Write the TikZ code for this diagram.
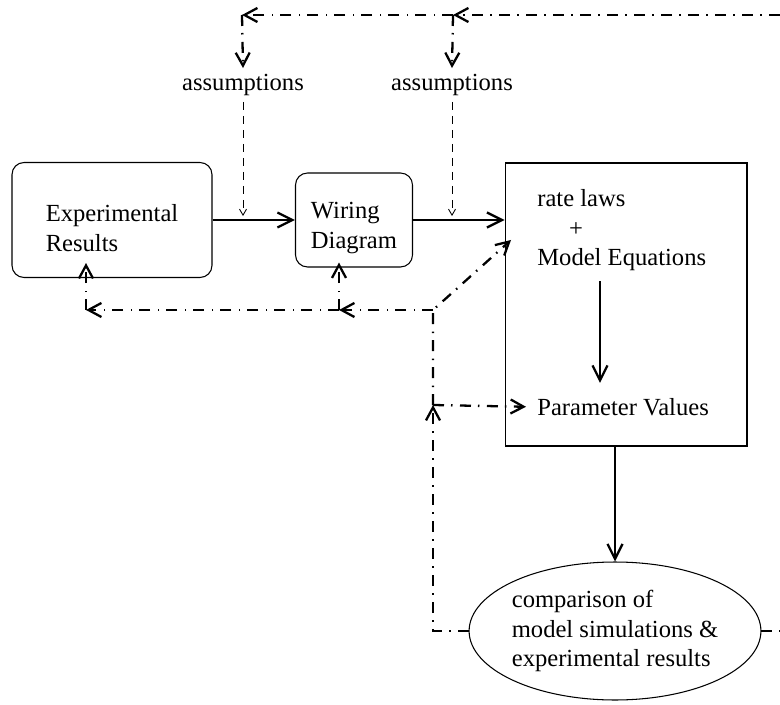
\documentclass[tikz,border=0pt]{standalone}
\usepackage{fontspec}
\setmainfont{Liberation Serif}
\usetikzlibrary{arrows.meta, positioning, shapes.geometric, calc}

\begin{document}
\begin{tikzpicture}[x=0.02cm, y=-0.02cm, font=\fontsize{14}{17}\selectfont,
  box/.style={draw, line width=0.6pt, rounded corners=0.24cm, align=left, text height=1.25cm},
  txt/.style={inner sep=0, anchor=west},
  flow/.style={line width=1.3pt, -{Straight Barb[length=0.3cm, width=0.3cm]}},
  fb/.style={line width=1.3pt, dash pattern=on 0.22cm off 0.14cm on 0.03cm off 0.15cm,
    -{Straight Barb[length=0.26cm, width=0.28cm]}},
  assume/.style={line width=0.5pt, dash pattern=on 0.16cm off 0.12cm,
    -{Straight Barb[length=0.12cm, width=0.14cm]}}]
  \useasboundingbox (0,0) rectangle (780,705);
  \clip (0,0) rectangle (780,705);

  % Boxes
  \node[box, minimum width=4cm, minimum height=2.3cm] (exp) at (112,220) {Experimental\\Results};
  \node[box, minimum width=2.34cm, minimum height=1.88cm] (wiring) at (354,220) {Wiring\\Diagram};
  \node[draw, line width=0.6pt, minimum width=4.84cm, minimum height=5.66cm] (model) at (626,304.5) {};

  % Text inside the model box
  \node[txt] (laws) at (537,198) {rate laws};
  \node[inner sep=0] (plus) at (576,230) {+};
  \node[txt] (eqs) at (537,260) {Model Equations};
  \node[txt] (params) at (537,407) {Parameter Values};

  % Comparison
  \node[draw, ellipse, line width=0.6pt, minimum width=5.68cm, minimum height=2.76cm, inner sep=0, align=left] (cmp) at (615,631) {comparison of\\model simulations \&\\experimental results};

  % Assumptions
  \node (as1) at (243,85) {assumptions};
  \node (as2) at (452,85) {assumptions};
  \coordinate (t1) at (242,15);
  \coordinate (t2) at (453,15);

  % Main flow
  \draw[flow] (exp.east) -- (exp.east -| wiring.west);
  \draw[flow] (wiring.east) -- (wiring.east -| model.west);
  \coordinate (stem) at (600,0);
  \draw[flow, shorten <=0.2cm, shorten >=0.3cm] (eqs.south -| stem) -- (params.north -| stem);
  \draw[flow] (model.south -| cmp.north) -- (cmp.north);

  % Assumptions feeding in
  \draw[assume, shorten >=0.08cm] (as1.south) -- (as1.south |- exp.east);
  \draw[assume, shorten >=0.08cm] (as2.south) -- (as2.south |- wiring.east);
  \draw[fb] (cmp.east) -- (800,631) |- (t2);
  \draw[fb] (t2) -- (t1);
  \draw[fb] (t1) -- (as1.north);
  \draw[fb] (t2) -- (as2.north);

  % Feedback from the comparison
  \coordinate (jn) at (433,405);
  \coordinate (bend) at (433,310);
  \coordinate (fw) at (339,310);
  \coordinate (fe) at (86,310);
  \coordinate (hit) at (511,240);
  \draw[fb] (cmp.west) -| (jn);
  \draw[fb, shorten >=0.22cm] (jn) -- (params.west);
  \draw[fb] (jn) -- (bend) -- (hit);
  \draw[fb] (bend) -- (fw);
  \draw[fb] (fw) -- (fe);
  \draw[fb, shorten >=-0.1cm] (fw) -- (fw |- wiring.south);
  \draw[fb, shorten >=-0.3cm] (fe) -- (fe |- exp.south);
\end{tikzpicture}
\end{document}
